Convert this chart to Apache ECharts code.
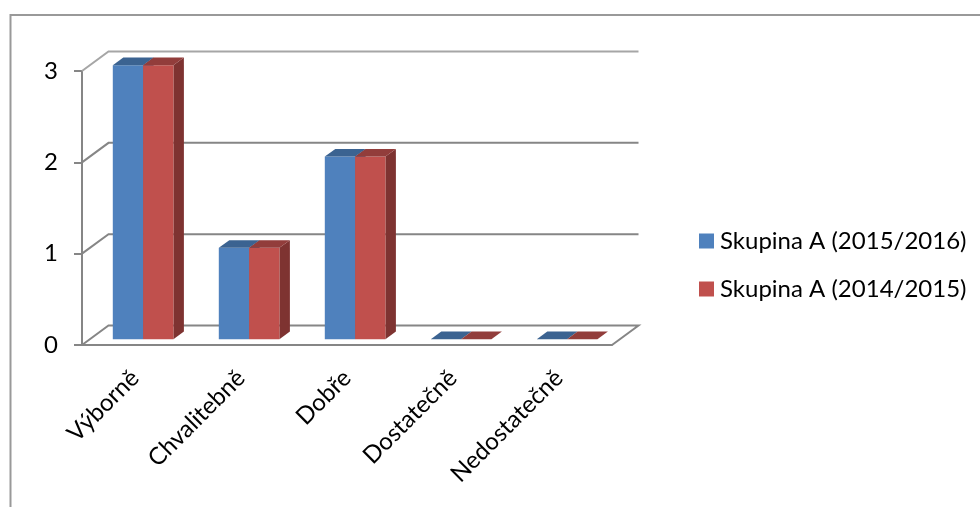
<!DOCTYPE html>
<html>
<head>
<meta charset="utf-8">
<style>html,body{margin:0;padding:0;background:#fff}#c{width:980px;height:507px}</style>
<script src="https://cdn.jsdelivr.net/npm/echarts@6/dist/echarts.min.js"></script>
</head>
<body>
<div id="c"></div>
<script>
const categories = ['Výborně', 'Chvalitebně', 'Dobře', 'Dostatečně', 'Nedostatečně'];
const skupina2015 = [3, 1, 2, 0, 0];
const skupina2014 = [3, 1, 2, 0, 0];
const yTicks = [0, 1, 2, 3];
const FONT = 'Lato, "Open Sans", sans-serif';
const AXIS = '#868686';

function wallItem(params, api) {
  const v = api.value(0);
  const g = params.coordSys;
  const y = api.coord([0, v])[1];
  const left = g.x, right = g.x + g.width;
  const dx = 26.5, dy = -19.5;
  const pts = v === 0
    ? [[left, y], [left + dx, y + dy], [right + dx, y + dy], [right, y]]
    : [[left, y], [left + dx, y + dy], [right + dx, y + dy]];
  return {
    type: 'polyline', shape: { points: pts },
    style: { fill: 'none', stroke: v === 3 ? '#a6a6a6' : AXIS, lineWidth: 2 }, silent: true
  };
}

function barRender(offset, front, top, side) {
  return function (params, api) {
    const i = api.value(0), v = api.value(1);
    const band = api.size([1, 0])[0];
    const bandLeft = api.coord([i, 0])[0] - band / 2;
    const w = 30.3, ddx = 10.5, ddy = -7.6, fx = 0, fy = -5.8;
    const x0 = bandLeft + 30.8 + offset * w + fx;
    const yBase = api.coord([i, 0])[1] + fy;
    const yTop = api.coord([i, v])[1] + fy;
    const x1 = x0 + w;
    const children = [];
    if (v > 0) {
      children.push({ type: 'polygon', shape: { points: [[x1, yTop], [x1 + ddx, yTop + ddy], [x1 + ddx, yBase + ddy], [x1, yBase]] }, style: { fill: side } });
      children.push({ type: 'rect', shape: { x: x0, y: yTop, width: w, height: yBase - yTop }, style: { fill: front } });
    }
    children.push({ type: 'polygon', shape: { points: [[x0, yTop], [x0 + ddx, yTop + ddy], [x1 + ddx, yTop + ddy], [x1, yTop]] }, style: { fill: top } });
    return { type: 'group', children };
  };
}

const chart = echarts.init(document.getElementById('c'), null, { renderer: 'canvas' });
chart.setOption({
  animation: false,
  backgroundColor: '#fff',
  graphic: [{
    type: 'rect', silent: true, z: -10,
    shape: { x: 10.5, y: 15, width: 1100, height: 700 },
    style: { fill: 'none', stroke: '#999999', lineWidth: 2 }
  }],
  grid: { left: 82, top: 71, width: 530, height: 274 },
  legend: {
    orient: 'vertical', left: 699, top: 229, padding: 0, itemWidth: 15, itemHeight: 15, itemGap: 24,
    data: ['Skupina A (2015/2016)', 'Skupina A (2014/2015)'],
    textStyle: { fontFamily: FONT, fontSize: 24, lineHeight: 24, color: '#000', padding: [0, 0, 0, 1] },
    icon: 'rect', selectedMode: false
  },
  xAxis: {
    type: 'category', data: categories,
    axisLine: { lineStyle: { color: AXIS, width: 2 } },
    axisTick: { length: 7, lineStyle: { color: AXIS, width: 2 } },
    axisLabel: { rotate: 45, fontFamily: FONT, fontSize: 24, color: '#000', margin: 29, interval: 0 }
  },
  yAxis: {
    type: 'value', min: 0, max: 3, interval: 1,
    axisLine: { show: true, lineStyle: { color: AXIS, width: 2 } },
    axisTick: { show: true, length: 8, lineStyle: { color: AXIS, width: 2 } },
    splitLine: { show: false },
    axisLabel: { fontFamily: FONT, fontSize: 24, color: '#000', margin: 24 }
  },
  series: [
    { type: 'custom', name: 'walls', renderItem: wallItem, data: yTicks.map(v => [v]), encode: { y: 0 }, z: 1, silent: true, tooltip: { show: false } },
    { type: 'custom', name: 'Skupina A (2015/2016)', itemStyle: { color: '#4F81BD' }, renderItem: barRender(0, '#4F81BD', '#3B6391', '#39608C'), data: skupina2015.map((v, i) => [i, v]), encode: { x: 0, y: 1 }, z: 3 },
    { type: 'custom', name: 'Skupina A (2014/2015)', itemStyle: { color: '#C0504D' }, renderItem: barRender(1, '#C0504D', '#923D3B', '#7E3331'), data: skupina2014.map((v, i) => [i, v]), encode: { x: 0, y: 1 }, z: 4 }
  ]
});
</script>
</body>
</html>
